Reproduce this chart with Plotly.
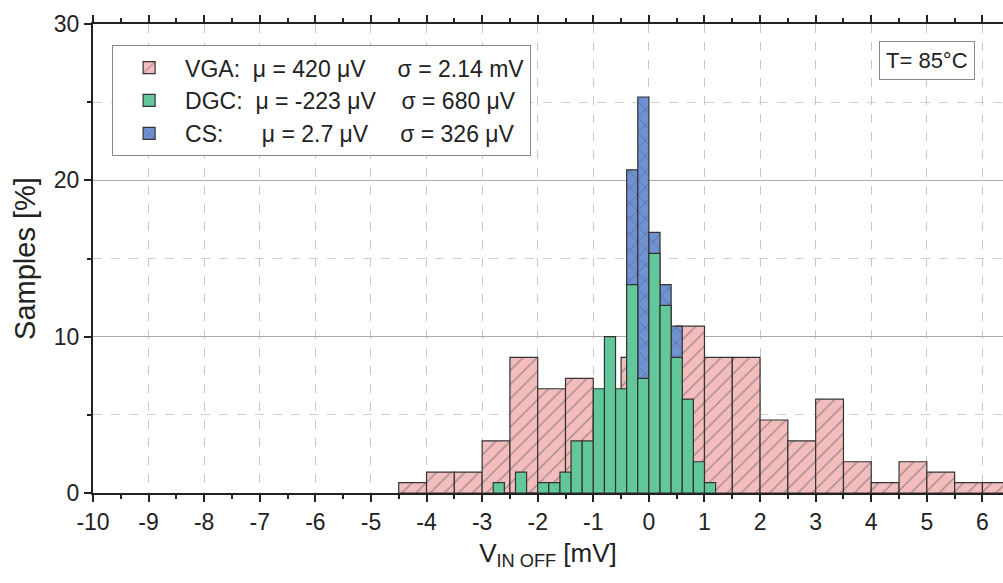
import numpy as np
import plotly.graph_objects as go

# VGA histogram (0.5 mV bins, left edges) [%]
vga_edges = [-4.5, -4.0, -3.5, -3.0, -2.5, -2.0, -1.5, -1.0, -0.5, 0.0, 0.5, 1.0,
             1.5, 2.0, 2.5, 3.0, 3.5, 4.0, 4.5, 5.0, 5.5, 6.0]
vga_vals = [0.67, 1.33, 1.33, 3.33, 8.67, 6.67, 7.33, 5.33, 8.67, 7.33, 10.67, 8.67,
            8.67, 4.67, 3.33, 6.0, 2.0, 0.67, 2.0, 1.33, 0.67, 0.67]
vga_width = 0.5

# DGC histogram (0.2 mV bins, left edges) [%]
dgc_edges = [-2.8, -2.6, -2.4, -2.2, -2.0, -1.8, -1.6, -1.4, -1.2, -1.0, -0.8, -0.6,
             -0.4, -0.2, 0.0, 0.2, 0.4, 0.6, 0.8, 1.0]
dgc_vals = [0.67, 0, 1.33, 0, 0.67, 0.67, 1.33, 3.33, 3.33, 6.67, 10.0, 6.67,
            13.33, 7.33, 15.33, 12.0, 8.67, 6.0, 2.0, 0.67]
dgc_width = 0.2

# CS histogram (0.2 mV bins, left edges) [%]
cs_edges = [-1.0, -0.8, -0.6, -0.4, -0.2, 0.0, 0.2, 0.4, 0.6, 0.8]
cs_vals = [0.67, 2.67, 5.33, 20.67, 25.33, 16.67, 13.33, 10.67, 4.0, 0.67]
cs_width = 0.2

x_tick_vals = list(range(-10, 7))
x_tick_text = [str(v) for v in x_tick_vals]
y_tick_vals = [0, 10, 20, 30]
y_tick_text = [str(v) for v in y_tick_vals]

vga_name = "VGA:  \u03bc = 420 \u03bcV     \u03c3 = 2.14 mV"
dgc_name = "DGC:  \u03bc = -223 \u03bcV    \u03c3 = 680 \u03bcV"
cs_name = "CS:      \u03bc = 2.7 \u03bcV     \u03c3 = 326 \u03bcV"

PINK = "#F3BDBD"
GREEN = "#62C89C"
BLUE = "#7092D2"

def centers(edges, w):
    return np.array(edges) + w / 2.0

fig = go.Figure()
fig.add_trace(go.Bar(
    x=centers(vga_edges, vga_width), y=vga_vals, width=vga_width, name=vga_name,
    legendrank=1, legendgroup="vga",
    marker=dict(color=PINK, line=dict(color="#333333", width=1.2),
                pattern=dict(shape="/", fgcolor="#555555", size=10, solidity=0.14)),
))
fig.add_trace(go.Bar(
    x=centers(cs_edges, cs_width), y=cs_vals, width=cs_width, name=cs_name,
    legendrank=3, legendgroup="cs",
    marker=dict(color=BLUE, line=dict(color="#333333", width=1.2),
                pattern=dict(shape="x", fgcolor="#333333", size=11, solidity=0.1)),
))
fig.add_trace(go.Bar(
    x=centers(dgc_edges, dgc_width), y=dgc_vals, width=dgc_width, name=dgc_name,
    legendrank=2, legendgroup="dgc",
    marker=dict(color=GREEN, line=dict(color="#333333", width=1.2)),
))

tickfont = dict(family="Liberation Sans Narrow, Liberation Sans, Arial", size=23, color="#222")

fig.update_layout(
    width=1003, height=583,
    margin=dict(l=93, r=0, t=24, b=90, autoexpand=False),
    paper_bgcolor="white", plot_bgcolor="white",
    barmode="overlay",
    showlegend=True,
    legend=dict(x=0.021, y=0.955, xanchor="left", yanchor="top",
                bgcolor="white", bordercolor="#888888", borderwidth=1,
                font=dict(family="Liberation Sans, Arial", size=23, color="#222"),
                tracegroupgap=0, itemwidth=62),
    font=dict(family="Liberation Sans, Arial", color="#222"),
)

fig.update_xaxes(
    range=[-10, 6.37], tickmode="array", tickvals=x_tick_vals, ticktext=x_tick_text,
    automargin=False,
    showline=True, linecolor="#222", linewidth=2, mirror="ticks",
    ticks="outside", ticklen=7, tickwidth=2, tickcolor="#222",
    minor=dict(dtick=0.5, ticks="outside", ticklen=4, tickwidth=1.5, tickcolor="#222", showgrid=False),
    showgrid=True, gridcolor="#C8C8C8", griddash="dash", gridwidth=1,
    zeroline=False,
    tickfont=tickfont,
    title=dict(text="V<sub>IN OFF</sub> [mV]", font=dict(family="Liberation Sans Narrow, Liberation Sans, Arial", size=26, color="#222"), standoff=10),
)
fig.update_yaxes(
    range=[0, 30], tickmode="array", tickvals=y_tick_vals, ticktext=y_tick_text,
    automargin=False,
    showline=True, linecolor="#222", linewidth=2, mirror="ticks",
    ticks="outside", ticklen=7, tickwidth=2, tickcolor="#222",
    minor=dict(dtick=5, ticks="outside", ticklen=4, tickwidth=1.5, tickcolor="#222",
               showgrid=True, gridcolor="#D0D0D0", griddash="dash", gridwidth=1),
    showgrid=True, gridcolor="#AAAAAA", gridwidth=1,
    zeroline=False,
    tickfont=tickfont,
    title=dict(text="Samples [%]", font=dict(family="Liberation Sans, Arial", size=29, color="#222"), standoff=10),
)

fig.add_annotation(
    xref="paper", yref="paper", x=0.969, y=0.923, xanchor="right", yanchor="middle",
    text="T= 85\u00b0C", showarrow=False,
    font=dict(family="Liberation Sans, Arial", size=22, color="#222"),
    bgcolor="white", bordercolor="#888888", borderwidth=1, borderpad=6,
)

fig.write_html("out.html", config={"displayModeBar": False},
               post_script="document.body.style.margin='0';")
